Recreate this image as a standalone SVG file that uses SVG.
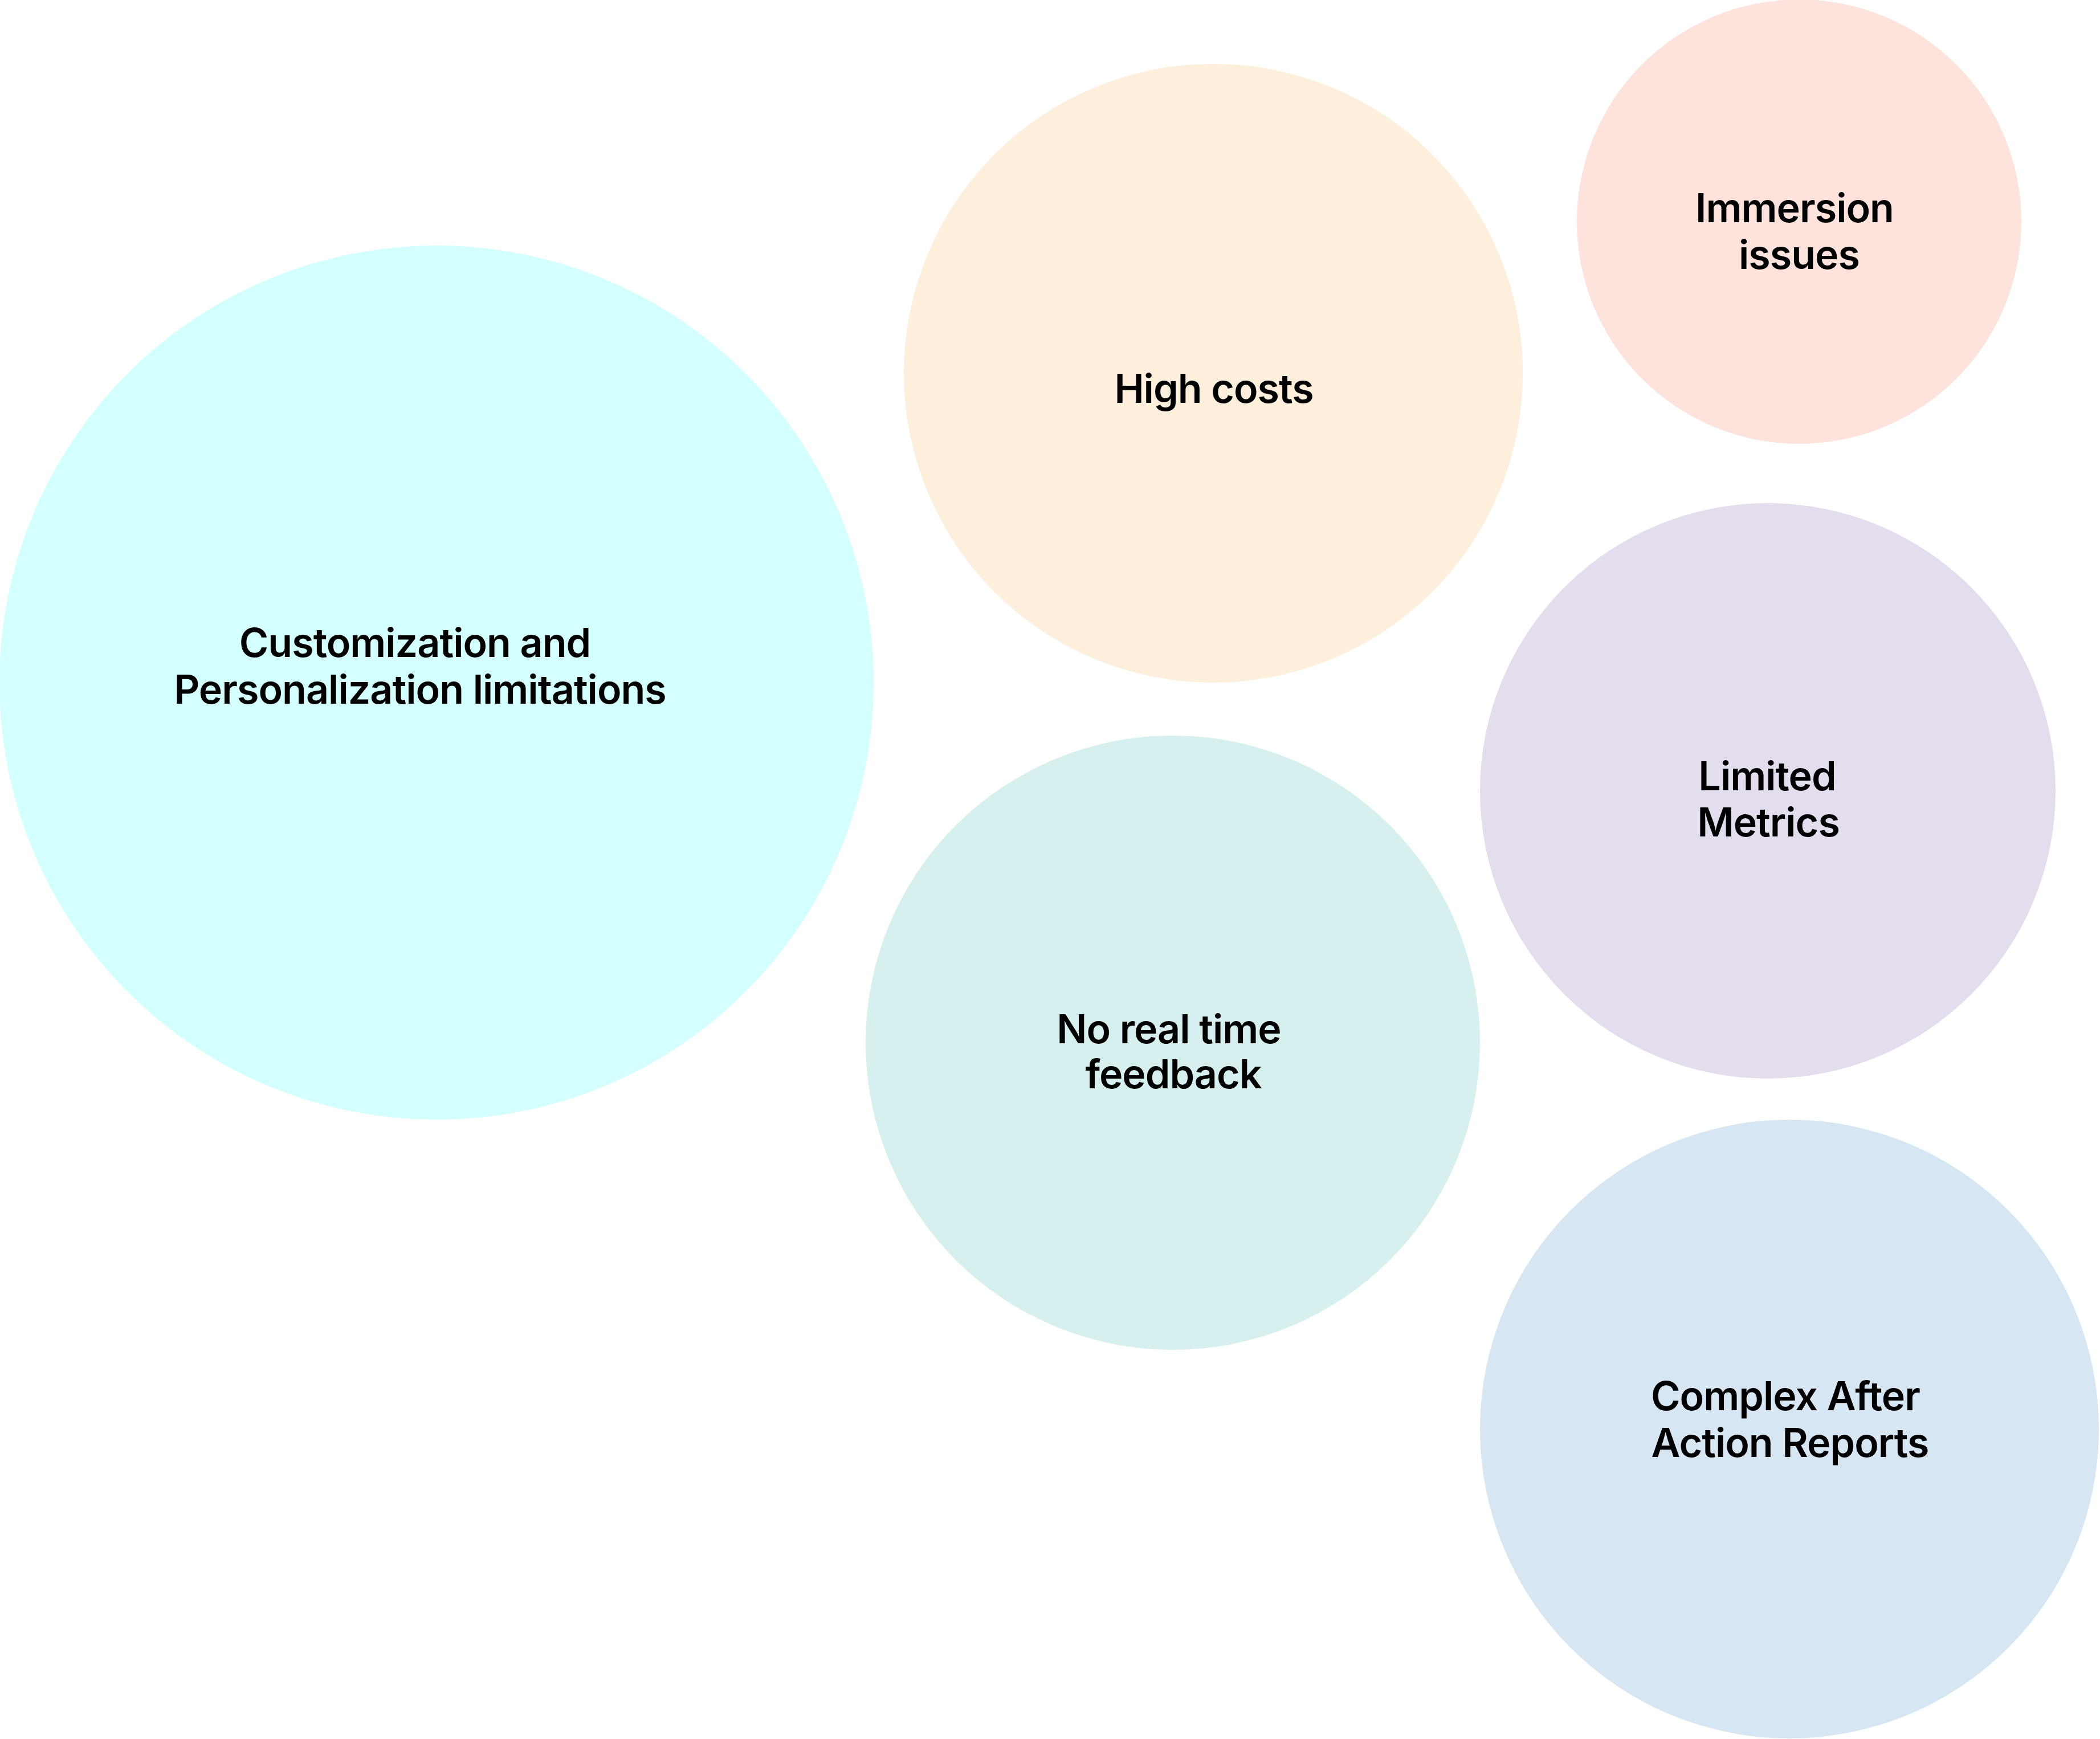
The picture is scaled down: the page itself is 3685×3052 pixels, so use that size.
<svg xmlns="http://www.w3.org/2000/svg" width="3685" height="3052" viewBox="0 0 3685 3052">
<style>
.lbl{font-family:Inter,"Noto Sans","Liberation Sans",sans-serif;font-weight:600;font-size:70px;letter-spacing:-1px;fill:#000;text-anchor:middle}
</style>
<rect width="3685" height="3052" fill="#ffffff"/>
<g id="connectors"></g>
<g id="node-customization">
<circle cx="766" cy="1198" r="767" fill="#D4FFFF"/>
<text class="lbl" x="728" y="1153">Customization and</text>
<text class="lbl" x="737" y="1235">Personalization limitations</text>
</g>
<g id="node-high-costs">
<circle cx="2129" cy="655" r="543" fill="#FEEEDC"/>
<text class="lbl" x="2130" y="707">High costs</text>
</g>
<g id="node-immersion">
<circle cx="3157" cy="389" r="390" fill="#FDE3DC"/>
<text class="lbl" x="3149" y="390">Immersion</text>
<text class="lbl" x="3157" y="472">issues</text>
</g>
<g id="node-limited-metrics">
<circle cx="3102" cy="1388" r="505" fill="#E4DDED"/>
<text class="lbl" x="3101" y="1387">Limited</text>
<text class="lbl" x="3103" y="1468">Metrics</text>
</g>
<g id="node-no-feedback">
<circle cx="2058" cy="1830" r="539" fill="#D6F0EF"/>
<text class="lbl" x="2051" y="1831">No real time</text>
<text class="lbl" x="2059" y="1910">feedback</text>
</g>
<g id="node-complex-reports">
<circle cx="3140" cy="2508" r="543" fill="#D6E7F3"/>
<text class="lbl" x="3133" y="2475">Complex After</text>
<text class="lbl" x="3141" y="2557">Action Reports</text>
</g>
</svg>
